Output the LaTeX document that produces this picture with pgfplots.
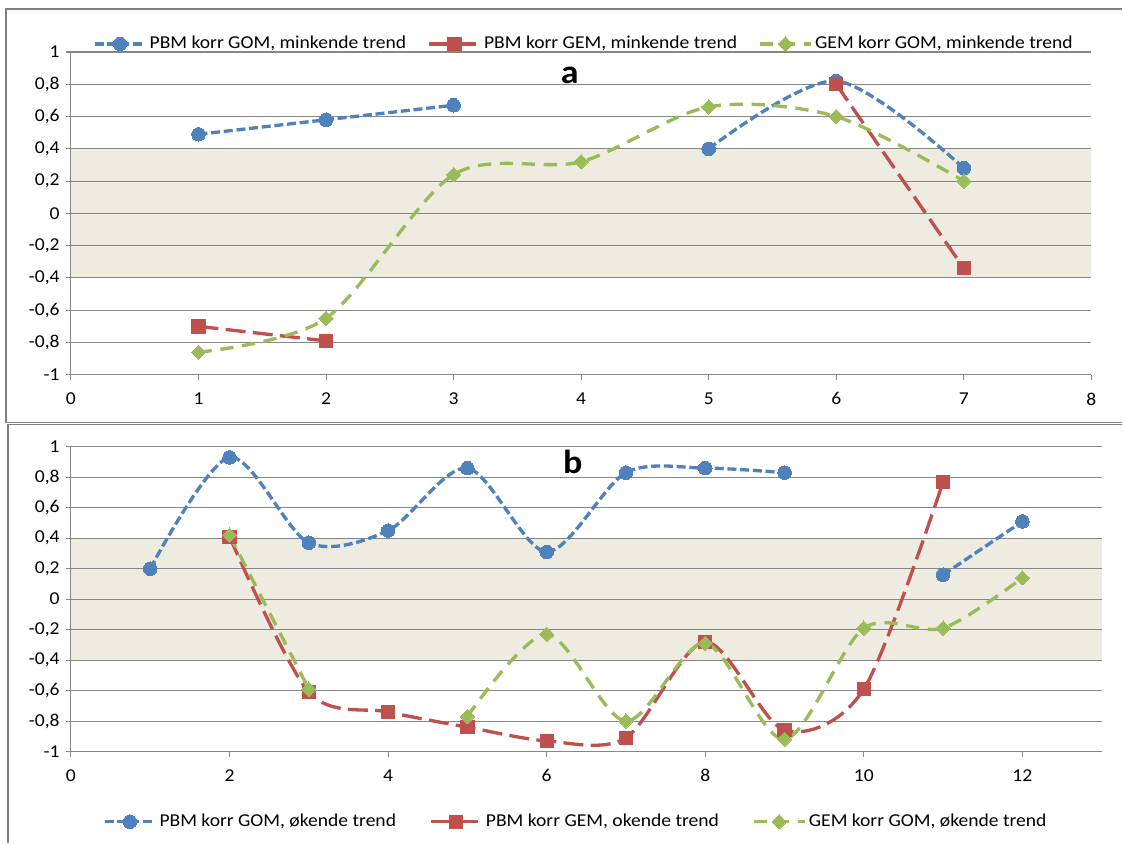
\documentclass[border=0pt]{standalone}
\usepackage{fontspec}
\setmainfont[FakeStretch=1.08]{Carlito}
\usepackage{pgfplots}
\pgfplotsset{compat=1.18}
\definecolor{cblue}{HTML}{4F81BD}
\definecolor{cred}{HTML}{C0504D}
\definecolor{cgreen}{HTML}{9BBB59}
\definecolor{cgrid}{HTML}{868686}
\definecolor{cband}{HTML}{EEECE1}
\definecolor{cborder}{HTML}{808080}
\pgfplotsset{
  panel/.style={
    set layers,
    scale only axis,
    ymin=-1, ymax=1,
    ytick={-1,-0.8,-0.6,-0.4,-0.2,0,0.2,0.4,0.6,0.8,1},
    yticklabels={-1,{-0,8},{-0,6},{-0,4},{-0,2},0,{0,2},{0,4},{0,6},{0,8},1},
    axis x line*=bottom, axis y line*=left,
    axis line style={cgrid, line width=0.8pt},
    tick style={cgrid, line width=0.8pt},
    major tick length=3.75pt,
    tick align=outside,
    ymajorgrids, grid style={cgrid, line width=0.8pt},
    ticklabel style={font=\fontsize{13.6}{16}\selectfont, text=black},
    xticklabel style={yshift=-5pt},
    /pgf/number format/assume math mode=true,
    unbounded coords=jump,
    legend columns=3,
    legend style={draw=none, fill=none, font=\fontsize{13.6}{16}\selectfont},
    legend image code/.code={\draw[mark repeat=2,mark phase=2,##1] plot coordinates {(0pt,0pt) (19pt,0pt) (38pt,0pt)};},
  },
  sblue/.style={cblue, line width=2.5pt, dash pattern=on 6.75pt off 2.8pt, smooth,
    mark=*, mark size=5.1pt, mark options={solid, fill=cblue, draw=cblue, line width=0pt}},
  sred/.style={cred, line width=2.5pt, dash pattern=on 15pt off 5.5pt, smooth,
    mark=square*, mark size=5pt, mark options={solid, fill=cred, draw=cred, line width=0pt}},
  sgreen/.style={cgreen, line width=2.5pt, dash pattern=on 10pt off 6.5pt, smooth,
    mark=square*, mark size=3.8pt, mark options={solid, rotate=45, fill=cgreen, draw=cgreen, line width=0pt}},
}
\begin{document}
\fontsize{13.6}{16}\selectfont
\begin{tikzpicture}
\path (0,0) rectangle (842.25pt,-632.25pt);
\draw[cborder, line width=1pt] (842.25pt,-6.75pt) -- (4.5pt,-6.75pt) -- (4.5pt,-317.25pt) -- (842.25pt,-317.25pt);
\draw[cborder, line width=1pt] (842.25pt,-318.75pt) -- (6pt,-318.75pt) -- (6pt,-632.25pt);

% ---------- panel a ----------
\begin{axis}[panel,
  at={(53.25pt,-281.25pt)}, anchor=south west,
  width=765.75pt, height=242.25pt,
  xmin=0, xmax=8, xtick={0,1,2,3,4,5,6,7,8},
  legend style={at={(0.503,1.025)}, anchor=center,
    /tikz/every even column/.append style={column sep=14pt}},
]
\addplot[fill=cband, draw=none, on layer=axis background, forget plot]
  coordinates {(0,-0.4) (8,-0.4) (8,0.4) (0,0.4)};
\addplot[sblue] coordinates {(1,0.49) (2,0.58) (3,0.67) (4,nan) (5,0.40) (6,0.82) (7,0.28)};
\addlegendentry{PBM korr GOM, minkende trend}
\addplot[sred] coordinates {(1,-0.70) (2,-0.79) (3,nan) (6,0.80) (7,-0.34)};
\addlegendentry{PBM korr GEM, minkende trend}
\addplot[sgreen] coordinates {(1,-0.86) (2,-0.65) (3,0.24) (4,0.32) (5,0.66) (6,0.60) (7,0.20)};
\addlegendentry{GEM korr GOM, minkende trend}
\end{axis}
\node[anchor=base, font=\fontsize{25}{30}\selectfont\bfseries] at (427.5pt,-62.5pt) {a};

% ---------- panel b ----------
\begin{axis}[panel,
  at={(53.25pt,-564pt)}, anchor=south west,
  width=773.5pt, height=228.75pt,
  xmin=0, xmax=13, xtick={0,2,4,6,8,10,12},
  legend style={at={(0.49,-0.23)}, anchor=center,
    /tikz/every even column/.append style={column sep=23pt}},
]
\addplot[fill=cband, draw=none, on layer=axis background, forget plot]
  coordinates {(0,-0.4) (13,-0.4) (13,0.4) (0,0.4)};
\addplot[sblue] coordinates {(1,0.20) (2,0.93) (3,0.37) (4,0.45) (5,0.86) (6,0.31) (7,0.83) (8,0.86) (9,0.83) (10,nan) (11,0.16) (12,0.51)};
\addlegendentry{PBM korr GOM, økende trend}
\addplot[sred] coordinates {(2,0.41) (3,-0.61) (4,-0.74) (5,-0.84) (6,-0.93) (7,-0.91) (8,-0.28) (9,-0.86) (10,-0.59) (11,0.77)};
\addlegendentry{PBM korr GEM, okende trend}
\addplot[sgreen] coordinates {(2,0.42) (3,-0.59) (4,nan) (5,-0.77) (6,-0.23) (7,-0.80) (8,-0.29) (9,-0.92) (10,-0.19) (11,-0.19) (12,0.14)};
\addlegendentry{GEM korr GOM, økende trend}
\end{axis}
\node[anchor=base, font=\fontsize{25}{30}\selectfont\bfseries] at (429.75pt,-355pt) {b};
\end{tikzpicture}
\end{document}
